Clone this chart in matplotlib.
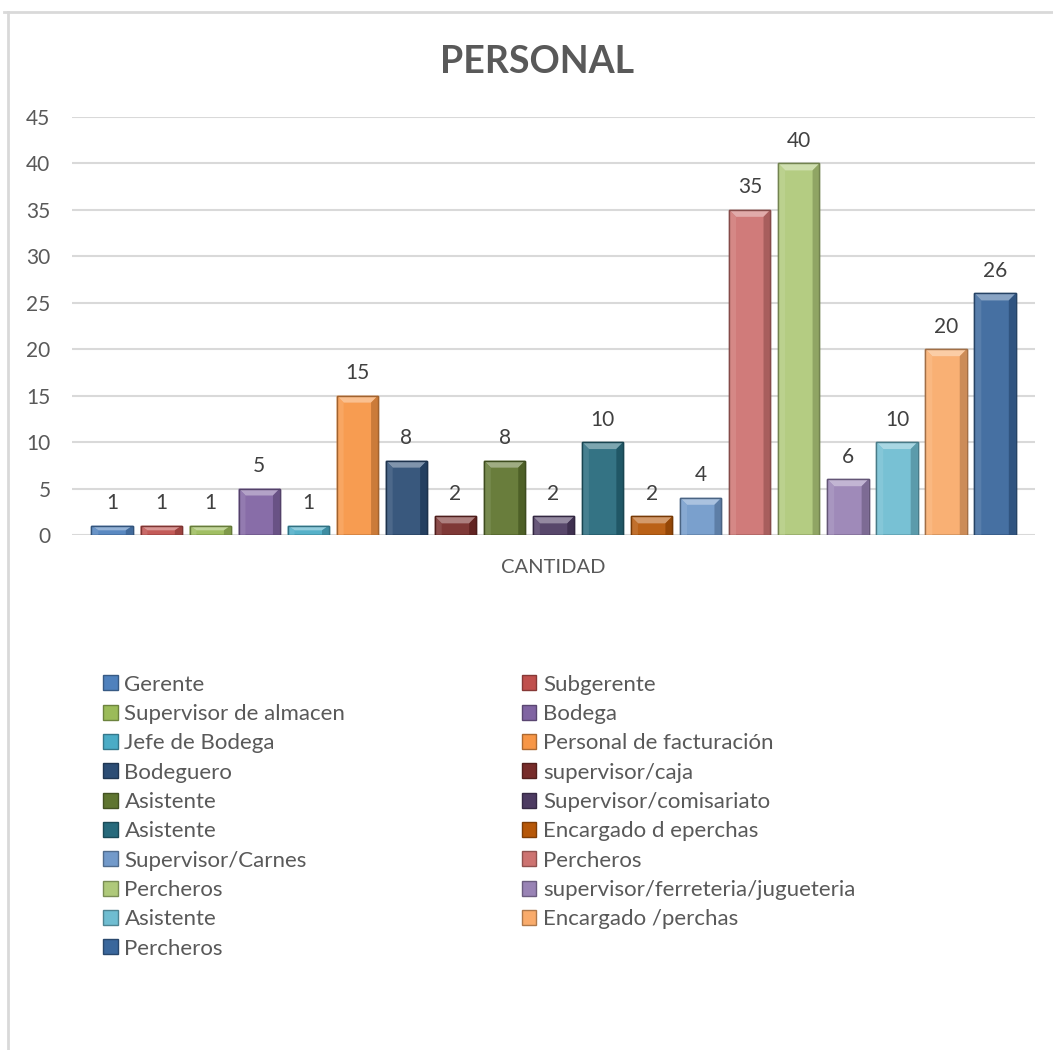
import matplotlib

matplotlib.use("Agg")
import matplotlib.pyplot as plt
from matplotlib.colors import to_rgb
from matplotlib.patches import Patch, Polygon, Rectangle

# data
categories = [
    "Gerente", "Subgerente", "Supervisor de almacen", "Bodega", "Jefe de Bodega",
    "Personal de facturación", "Bodeguero", "supervisor/caja", "Asistente",
    "Supervisor/comisariato", "Asistente", "Encargado d eperchas", "Supervisor/Carnes",
    "Percheros", "Percheros", "supervisor/ferreteria/jugueteria", "Asistente",
    "Encargado /perchas", "Percheros",
]
values = [1, 1, 1, 5, 1, 15, 8, 2, 8, 2, 10, 2, 4, 35, 40, 6, 10, 20, 26]
colors = [
    "#4F81BD", "#C0504D", "#9BBB59", "#8064A2", "#4BACC6", "#F79646",
    "#2C4D75", "#772C2A", "#5F7530", "#4D3B62", "#276A7C", "#B65708",
    "#729ACA", "#CD7371", "#AFC97A", "#9983B5", "#6FBDD1", "#F9AB6B",
    "#3A679C",
]
x_label = "CANTIDAD"
title = "PERSONAL"

plt.rcParams["font.family"] = ["Lato", "DejaVu Sans"]
TEXT = "#595959"


def shade(c, f):
    r, g, b = to_rgb(c)
    if f >= 0:
        return (r + (1 - r) * f, g + (1 - g) * f, b + (1 - b) * f)
    return (r * (1 + f), g * (1 + f), b * (1 + f))


fig = plt.figure(figsize=(10.53, 10.50), dpi=100)
ax = fig.add_axes([0.0684, 0.4905, 0.9146, 0.3981])

# chart frame like the spreadsheet export
fig.add_artist(plt.Line2D([0.0076, 0.0076], [0, 0.9886], color="#D9D9D9", lw=2,
                          transform=fig.transFigure))
fig.add_artist(plt.Line2D([0.0038, 1], [0.9886, 0.9886], color="#D9D9D9", lw=2,
                          transform=fig.transFigure))

width = 0.84
dx = 0.14   # bevel inset, x units
dy = 0.75   # bevel height, y units
for i, (v, c) in enumerate(zip(values, colors)):
    x0, x1 = i - width / 2, i + width / 2
    ax.add_patch(Rectangle((x0, 0), width, v, facecolor=shade(c, 0.06),
                           edgecolor=shade(c, -0.35), lw=1, zorder=3))
    h = min(dy, v / 2)
    # top bevel lighter, sides darker
    ax.add_patch(Polygon([(x0, v), (x1, v), (x1 - dx, v - h), (x0 + dx, v - h)],
                         closed=True, facecolor=shade(c, 0.4), lw=0, zorder=4))
    ax.add_patch(Polygon([(x0, 0), (x0, v), (x0 + dx, v - h), (x0 + dx, 0)],
                         closed=True, facecolor=shade(c, 0.15), lw=0, zorder=4))
    ax.add_patch(Polygon([(x1, 0), (x1, v), (x1 - dx, v - h), (x1 - dx, 0)],
                         closed=True, facecolor=shade(c, -0.18), lw=0, zorder=4))
    ax.add_patch(Rectangle((x0, 0), width, v, facecolor="none",
                           edgecolor=shade(c, -0.35), lw=1, zorder=5))
    ax.annotate(str(v), (i, v), xytext=(0, 9), textcoords="offset points",
                ha="center", va="bottom", fontsize=15, color="#404040")

ax.set_xlim(-0.816, len(values) - 1 + 0.816)
ax.set_ylim(0, 45)
ax.set_yticks(range(0, 46, 5))
ax.yaxis.grid(True, color="#D9D9D9", lw=1.5, zorder=0)
ax.set_axisbelow(True)
for s in ax.spines.values():
    s.set_visible(False)
ax.tick_params(axis="y", length=0, labelsize=15, labelcolor=TEXT, pad=15.5)
ax.set_xticks([(len(values) - 1) / 2])
ax.set_xticklabels([x_label])
ax.tick_params(axis="x", length=0, labelsize=14.5, labelcolor=TEXT, pad=17)

fig.text(0.51, 0.941, title, ha="center", va="center", fontsize=27,
         fontweight="bold", color=TEXT)

handles = [Patch(facecolor=c, edgecolor=shade(c, -0.3), label=n)
           for n, c in zip(categories, colors)]
order = list(range(0, len(handles), 2)) + list(range(1, len(handles), 2))
fig.legend([handles[k] for k in order], [categories[k] for k in order],
           ncol=2, loc="upper left", bbox_to_anchor=(0.0876, 0.368),
           frameon=False, fontsize=16, labelcolor=TEXT,
           handlelength=0.65, handleheight=0.65, handletextpad=0.3,
           labelspacing=0.42, columnspacing=7.94, borderpad=0)

fig.savefig("out.png", dpi=100)
